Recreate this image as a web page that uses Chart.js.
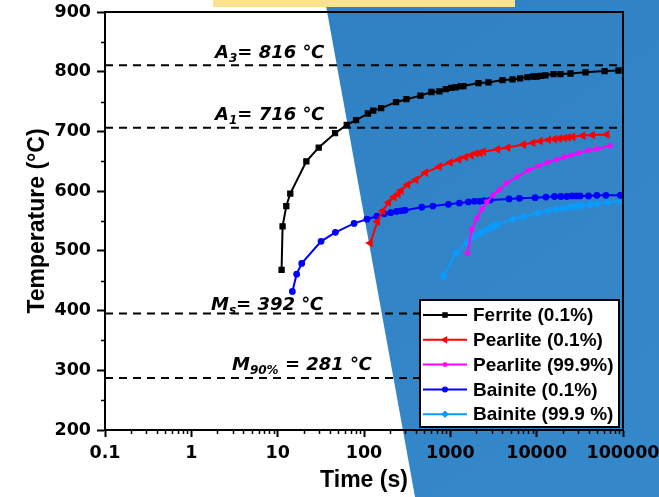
<!DOCTYPE html>
<html>
<head>
<meta charset="utf-8">
<script src="https://cdn.jsdelivr.net/npm/chart.js@4.4.1/dist/chart.umd.min.js"></script>
<style>
  html, body { margin: 0; padding: 0; background: #fff; }
  #wrap { width: 659px; height: 497px; }
</style>
</head>
<body>
<div id="wrap"><canvas id="cct" width="659" height="497"></canvas></div>
<script>
// Datos (tiempo en s, temperatura en °C)
const ferriteTime = [11.1, 11.4, 12.6, 14.0, 21.5, 29.9, 46.2, 63.1, 80.9, 111, 128, 158, 235, 310, 451, 604, 748, 887, 1021, 1158, 1324, 1419, 2118, 2766, 4020, 5250, 6440, 7830, 9190, 10050, 11190, 12650, 15670, 18880, 24650, 36800, 61100, 88700];
const ferriteTemp = [468, 541, 575, 596, 650, 673, 697, 711, 719, 730, 735, 739, 749, 754, 760, 766, 767, 771, 773, 774, 776, 776, 781, 782, 786, 787, 789, 791, 792, 792, 793, 794, 796, 796, 797, 799, 801, 802];

const pearlite01Time = [118, 143, 165, 192, 223, 248, 269, 320, 398, 515, 741, 995, 1254, 1497, 1742, 1990, 2213, 2420, 3520, 4630, 7030, 9030, 10970, 13700, 16080, 18360, 20830, 23190, 26240, 34300, 44300, 65000];
const pearlite01Temp = [513, 549, 567, 581, 590, 595, 601, 611, 619, 631, 641, 648, 653, 657, 660, 663, 664, 666, 670, 673, 678, 681, 684, 686, 687, 688, 689, 690, 691, 693, 694, 695];

const pearlite999Time = [1578, 1774, 2027, 2317, 2648, 3105, 3700, 4430, 5900, 8040, 10500, 13340, 17140, 20800, 24900, 30500, 39100, 49800, 71000];
const pearlite999Temp = [496, 536, 555, 570, 582, 593, 602, 613, 624, 635, 642, 648, 653, 657, 660, 664, 668, 671, 676];

const bainite01Time = [14.8, 16.6, 19.0, 31.8, 46.7, 76.8, 108, 141, 172, 204, 238, 269, 299, 467, 627, 950, 1274, 1621, 1902, 2173, 2465, 2893, 4790, 6320, 9610, 12800, 16080, 19050, 22370, 25600, 28700, 31900, 39800, 49800, 63400, 92900];
const bainite01Temp = [432, 461, 479, 516, 531, 546, 553, 558, 562, 564, 566, 567, 568, 573, 575, 578, 580, 582, 583, 583, 584, 585, 587, 588, 589, 590, 591, 591, 591, 592, 592, 592, 592, 593, 593, 593];

const bainite999Time = [832, 1167, 1552, 1854, 2214, 2576, 2944, 3215, 3513, 5300, 7030, 10200, 13580, 16820, 20100, 23300, 26200, 29700, 33400, 41700, 49800, 66100, 92900];
const bainite999Temp = [458, 497, 514, 523, 529, 535, 539, 542, 544, 553, 557, 563, 567, 570, 571, 573, 574, 575, 576, 578, 579, 581, 583];

// Líneas de referencia (posición dibujada) y sus etiquetas
const refLevels = [811, 706, 395, 287];
const refMain = ['A', 'A', 'M', 'M'];
const refSub = ['3', '1', 's', '90%'];
const refRest = ['= 816 ℃', '= 716 ℃', '= 392 ℃', ' = 281 ℃'];

const xTicks = [0.1, 1, 10, 100, 1000, 10000, 100000];
const xTickLabels = ['0.1', '1', '10', '100', '1000', '10000', '100000'];
const yTicks = [200, 300, 400, 500, 600, 700, 800, 900];

const toPoints = (ts, vs) => ts.map((t, i) => ({ x: t, y: vs[i] }));

const series = [
    { label: 'Ferrite (0.1%)', color: '#000000', style: 'rect', radius: 3.6, rotation: 0, data: toPoints(ferriteTime, ferriteTemp) },
    { label: 'Pearlite (0.1%)', color: '#ff0000', style: 'triangle', radius: 3.8, rotation: 270, data: toPoints(pearlite01Time, pearlite01Temp) },
    { label: 'Pearlite (99.9%)', color: '#ff00ff', style: 'star', radius: 3, rotation: 0, data: toPoints(pearlite999Time, pearlite999Temp) },
    { label: 'Bainite (0.1%)', color: '#0000ff', style: 'circle', radius: 2.8, rotation: 0, data: toPoints(bainite01Time, bainite01Temp) },
    { label: 'Bainite (99.9 %)', color: '#0a9bff', style: 'rectRot', radius: 3.4, rotation: 0, data: toPoints(bainite999Time, bainite999Temp) }
];

const datasets = series.map(s => ({
    label: s.label,
    data: s.data,
    borderColor: s.color,
    backgroundColor: s.color,
    borderWidth: 2,
    pointStyle: s.style,
    pointRadius: s.radius,
    pointRotation: s.rotation,
    pointBackgroundColor: s.color,
    pointBorderColor: s.color,
    pointBorderWidth: 1.2,
    tension: 0,
    inLegend: true
}));

refLevels.forEach(v => {
    datasets.unshift({
        label: 'ref' + v,
        data: [{ x: 0.1, y: v }, { x: 100000, y: v }],
        borderColor: '#000',
        borderWidth: 2,
        borderDash: [8, 6],
        pointRadius: 0,
        tension: 0,
        inLegend: false
    });
});

// Fondo: blanco, zona azul diagonal y franja amarilla
const backdrop = {
    id: 'backdrop',
    beforeDraw(chart) {
        const ctx = chart.ctx;
        const w = chart.width, h = chart.height;
        ctx.save();
        ctx.fillStyle = '#ffffff';
        ctx.fillRect(0, 0, w, h);
        const g = ctx.createLinearGradient(325, 0, w, h);
        g.addColorStop(0, '#2f81c4');
        g.addColorStop(1, '#3589ca');
        ctx.fillStyle = g;
        ctx.beginPath();
        ctx.moveTo(325, 0);
        ctx.lineTo(w, 0);
        ctx.lineTo(w, h);
        ctx.lineTo(415, h);
        ctx.closePath();
        ctx.fill();
        ctx.fillStyle = '#fde28c';
        ctx.fillRect(213, 0, 302, 7);
        ctx.restore();
    }
};

function drawSubLabel(ctx, x, y, main, sub, rest) {
    ctx.font = 'italic bold 18px "DejaVu Sans"';
    ctx.fillText(main, x, y);
    x += ctx.measureText(main).width;
    ctx.font = 'italic bold 12px "DejaVu Sans"';
    ctx.fillText(sub, x, y + 4);
    x += ctx.measureText(sub).width;
    ctx.font = 'italic bold 18px "DejaVu Sans"';
    ctx.fillText(rest, x, y);
}

const decorations = {
    id: 'decorations',
    afterDatasetsDraw(chart) {
        const ctx = chart.ctx;
        const xs = chart.scales.x, ys = chart.scales.y;
        const area = chart.chartArea;
        ctx.save();
        ctx.fillStyle = '#000';
        ctx.textBaseline = 'alphabetic';
        const labelX = [215, 215, 211, 232];
        const labelOff = [-7, -8, -4, -8];
        refLevels.forEach((v, i) => {
            drawSubLabel(ctx, labelX[i], ys.getPixelForValue(v) + labelOff[i], refMain[i], refSub[i], refRest[i]);
        });

        // marco superior y derecho
        ctx.strokeStyle = '#000';
        ctx.lineWidth = 2;
        ctx.strokeRect(area.left, area.top, area.right - area.left, area.bottom - area.top);

        // ticks menores
        ctx.lineWidth = 1.5;
        ctx.beginPath();
        for (let d = 0.1; d < 100000; d *= 10) {
            for (let k = 2; k <= 9; k++) {
                const px = Math.round(xs.getPixelForValue(k * d)) + 0.5;
                ctx.moveTo(px, area.bottom);
                ctx.lineTo(px, area.bottom + 4);
            }
        }
        for (let v = 250; v < 900; v += 100) {
            const py = Math.round(ys.getPixelForValue(v)) + 0.5;
            ctx.moveTo(area.left, py);
            ctx.lineTo(area.left - 4, py);
        }
        ctx.stroke();
        ctx.restore();
    },
    afterDraw(chart) {
        // leyenda
        const ctx = chart.ctx;
        const items = chart.data.datasets.filter(d => d.inLegend);
        const bx = 420, by = 300, bw = 199, bh = 127;
        ctx.save();
        ctx.fillStyle = '#fff';
        ctx.fillRect(bx, by, bw, bh);
        ctx.strokeStyle = '#000';
        ctx.lineWidth = 2;
        ctx.strokeRect(bx, by, bw, bh);
        items.forEach((d, i) => {
            const cy = 315 + i * 24.8;
            ctx.strokeStyle = d.borderColor;
            ctx.fillStyle = d.borderColor;
            ctx.lineWidth = 2;
            ctx.beginPath();
            ctx.moveTo(423, cy);
            ctx.lineTo(467, cy);
            ctx.stroke();
            ctx.lineWidth = 1.2;
            Chart.helpers.drawPoint(ctx, {
                pointStyle: d.pointStyle,
                rotation: d.pointRotation,
                radius: d.pointRadius * 0.85,
                borderWidth: 1.2
            }, 445, cy);
            ctx.fillStyle = '#000';
            ctx.font = 'bold 19px "Liberation Sans", Arial, sans-serif';
            ctx.textBaseline = 'middle';
            ctx.fillText(d.label, 473, cy + 1);
        });
        ctx.restore();
    }
};

const tickFont = { family: '"DejaVu Sans"', size: 17.5, weight: 'bold' };
const titleFont = { family: '"Liberation Sans", Arial, sans-serif', size: 23, weight: 'bold' };

new Chart(document.getElementById('cct'), {
    type: 'line',
    data: { datasets: datasets },
    plugins: [backdrop, decorations],
    options: {
        responsive: false,
        animation: false,
        devicePixelRatio: 1,
        layout: { padding: { left: 0, right: 36, top: 12, bottom: 0 } },
        plugins: { legend: { display: false }, tooltip: { enabled: false } },
        scales: {
            x: {
                type: 'logarithmic',
                min: 0.1,
                max: 100000,
                afterBuildTicks: s => { s.ticks = xTicks.map(v => ({ value: v })); },
                afterFit: s => { s.height = 67; s.paddingLeft = 0; s.paddingRight = 0; },
                ticks: {
                    color: '#000',
                    font: tickFont,
                    padding: 6,
                    maxRotation: 0,
                    autoSkip: false,
                    callback: (v, i) => xTickLabels[i]
                },
                grid: { drawOnChartArea: false, tickLength: 7, tickWidth: 2, tickColor: '#000' },
                border: { color: '#000', width: 2 },
                title: { display: true, text: 'Time (s)', color: '#000', font: titleFont, padding: { top: 0, bottom: 3 } }
            },
            y: {
                min: 200,
                max: 900,
                afterBuildTicks: s => { s.ticks = yTicks.map(v => ({ value: v })); },
                afterFit: s => { s.width = 105; s.paddingTop = 0; s.paddingBottom = 0; },
                ticks: { color: '#000', font: tickFont, padding: 6 },
                grid: { drawOnChartArea: false, tickLength: 8, tickWidth: 2, tickColor: '#000' },
                border: { color: '#000', width: 2 },
                title: { display: true, text: 'Temperature (°C)', color: '#000', font: titleFont, padding: { top: 24, bottom: 0 } }
            }
        }
    }
});
</script>
</body>
</html>
